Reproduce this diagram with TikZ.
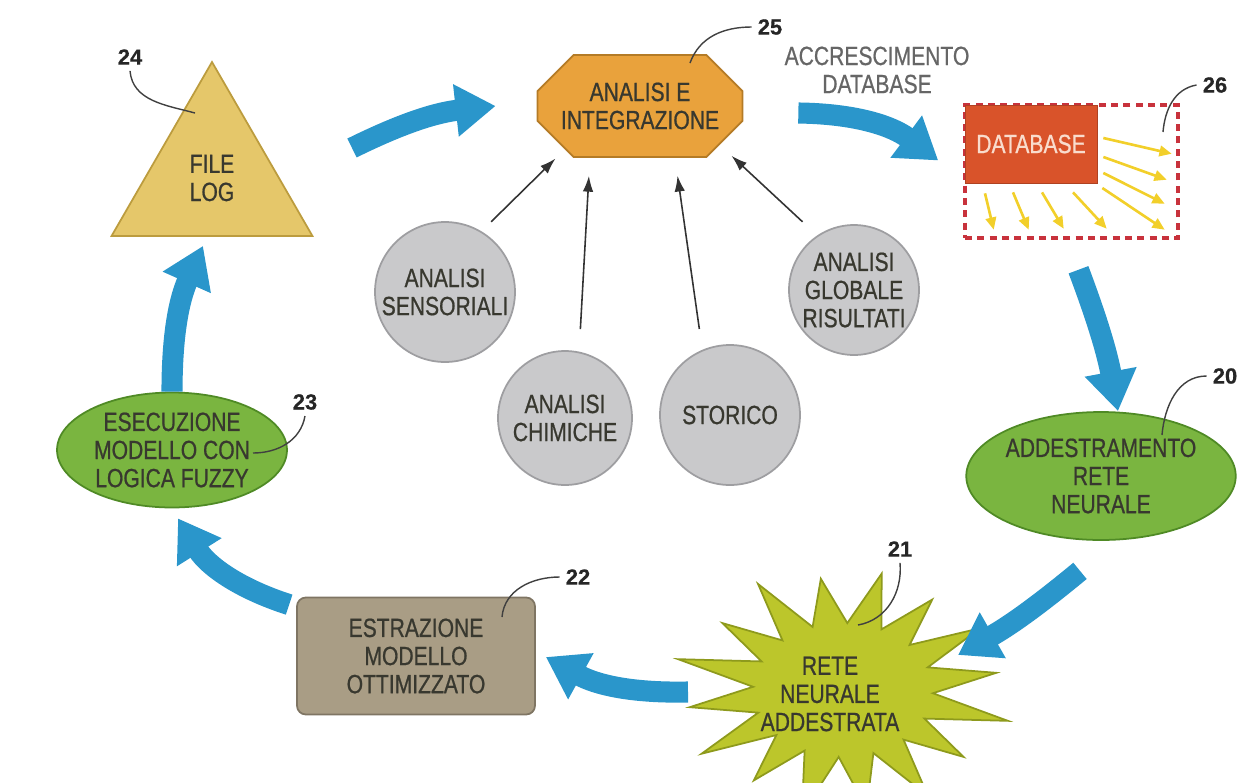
\documentclass[tikz,border=0pt]{standalone}
\usepackage{fontspec}
\setmainfont{Liberation Sans}[FakeStretch=0.8,FakeBold=0.7]
\newfontfamily\numfont{Liberation Sans}[FakeBold=0.5]
\usetikzlibrary{shapes.geometric,shapes.misc,arrows.meta}

\definecolor{flowblue}{HTML}{2A96CB}
\definecolor{textgray}{HTML}{38382F}
\definecolor{logfill}{HTML}{E5C76A}
\definecolor{logline}{HTML}{BC9C3E}
\definecolor{integfill}{HTML}{E9A23C}
\definecolor{integline}{HTML}{B47B26}
\definecolor{dbfill}{HTML}{D9532A}
\definecolor{dbtext}{HTML}{F9DCCD}
\definecolor{dbdash}{HTML}{C8323C}
\definecolor{rayyellow}{HTML}{F2CF2A}
\definecolor{greenfill}{HTML}{7AB540}
\definecolor{greenline}{HTML}{4F8A25}
\definecolor{burstfill}{HTML}{BCC62B}
\definecolor{burstline}{HTML}{8E9A1C}
\definecolor{extractfill}{HTML}{A99D85}
\definecolor{extractline}{HTML}{7F7563}
\definecolor{greyfill}{HTML}{C9C9CB}
\definecolor{greyline}{HTML}{9E9EA1}

\begin{document}
\begin{tikzpicture}[x=0.02cm,y=0.02cm,
    every node/.style={font=\fontsize{15}{16}\selectfont,text=textgray,align=center,inner sep=0pt},
    flow/.style={draw=flowblue,line width=12pt,-{Triangle[length=0.8cm,width=1.0cm]}},
    feed/.style={draw=black!80,line width=0.9pt,-{Latex[length=9pt,width=6pt]}},
    ray/.style={draw=rayyellow,line width=1.5pt,-{Triangle[length=7pt,width=6pt]}},
    leader/.style={draw=black!75,line width=0.8pt},
    num/.style={font=\numfont\fontsize{12.5}{14}\selectfont\bfseries,text=black!85}]
    \useasboundingbox (0,0) rectangle (1255,-782);
    \clip (0,0) rectangle (1255,-782);

    \begin{scope}[shift={(843,-690)}]
        \filldraw[fill=burstfill,draw=burstline,line width=1pt] (76:160 and 120)
            \foreach \i/\r in {0/150,1/165,2/150,3/170,4/155,5/165,6/150,7/170,8/160,9/165,10/150,11/170,12/155,13/160,14/150,15/160}{ -- ({76+\i*22.5+11.25}:90 and 67) -- ({76+(\i+1)*22.5}:\r\space and {\r*0.75})} -- cycle;
    \end{scope}

    \node[regular polygon,regular polygon sides=3,minimum size=4.64cm,fill=logfill,draw=logline,line width=1pt] (log) at (212,-178) {FILE\\LOG};
    \node[chamfered rectangle,chamfered rectangle xsep=0.36cm,chamfered rectangle ysep=0.36cm,minimum width=4.1cm,minimum height=2.04cm,fill=integfill,draw=integline,line width=1pt] (integ) at (640,-106) {ANALISI E\\INTEGRAZIONE};
    \node[text=black!60] (grow) at (877,-70) {ACCRESCIMENTO\\DATABASE};
    \node[draw=dbdash,line width=2pt,dash pattern=on 4pt off 3pt,minimum width=4.26cm,minimum height=2.66cm] (dbzone) at (1071.5,-171.5) {};
    \node[fill=dbfill,draw=dbfill!80!black,minimum width=2.64cm,minimum height=1.56cm,text=dbtext] (db) at (1031,-144) {DATABASE};
    \node[rectangle,rounded corners=5pt,minimum width=4.76cm,minimum height=2.34cm,fill=extractfill,draw=extractline,line width=1pt] (extract) at (416,-656) {ESTRAZIONE\\MODELLO\\OTTIMIZZATO};
    \node (trained) at (830,-694) {RETE\\NEURALE\\ADDESTRATA};

    \begin{scope}[every node/.style={ellipse,fill=greenfill,draw=greenline,line width=1pt,font=\fontsize{15}{16}\selectfont,text=textgray,align=center,inner sep=0pt}]
        \node[minimum width=4.84cm,minimum height=2.56cm] (train) at (1101,-476) {ADDESTRAMENTO\\RETE\\NEURALE};
        \node[minimum width=4.6cm,minimum height=2.3cm] (fuzzy) at (172,-450) {ESECUZIONE\\MODELLO CON\\LOGICA FUZZY};
    \end{scope}

    \begin{scope}[every node/.style={circle,fill=greyfill,draw=greyline,line width=1pt,font=\fontsize{15}{16}\selectfont,text=textgray,align=center,inner sep=0pt}]
        \node[minimum size=2.8cm] (sens) at (445,-292) {ANALISI\\SENSORIALI};
        \node[minimum size=2.68cm] (chim) at (565,-418) {ANALISI\\CHIMICHE};
        \node[minimum size=2.8cm] (stor) at (730,-415) {STORICO};
        \node[minimum size=2.6cm] (glob) at (854,-290) {ANALISI\\GLOBALE\\RISULTATI};
    \end{scope}

    \begin{scope}[every node/.style={num}]
        \node (n24) at (130,-57) {24};
        \node (n25) at (770,-27) {25};
        \node (n26) at (1215,-85) {26};
        \node (n20) at (1225,-376) {20};
        \node (n21) at (900,-549) {21};
        \node (n22) at (578,-577) {22};
        \node (n23) at (305,-402) {23};
    \end{scope}

    \coordinate (p24) at (195,-113);
    \coordinate (p25) at (690,-63);
    \coordinate (p26) at (1163,-132);
    \coordinate (p20) at (1162,-435);
    \coordinate (p21) at (858,-625);
    \coordinate (p22) at (502,-617);
    \coordinate (p23) at (253,-453);

    \begin{scope}
        \draw[leader] (n24.south) to[out=-85,in=165] (p24);
        \draw[leader] (n25.west) to[out=180,in=70] (p25);
        \draw[leader] (n26.west) to[out=190,in=85] (p26);
        \draw[leader] (n20.west) to[out=180,in=85] (p20);
        \draw[leader] (n21.south) to[out=-85,in=10] (p21);
        \draw[leader] (n22.west) to[out=180,in=85] (p22);
        \draw[leader] (n23.south) to[out=-100,in=0] (p23);
    \end{scope}

    \begin{scope}
        \foreach \s/\e in {{6,6}/{-8,86},{6,-13}/{-13,60},{6,-29}/{-15,36},{5,-44}/{-15,10}}
            \draw[ray] ([shift={(\s)}]db.east) -- ([shift={(\e)}]dbzone.south east);
        \foreach \s/\e in {{-46,-10}/{-186,10},{-18,-9}/{-151,10},{11,-9}/{-116,11},{42,-9}/{-73,11}}
            \draw[ray] ([shift={(\s)}]db.south) -- ([shift={(\e)}]dbzone.south east);
    \end{scope}

    \begin{scope}
        \draw[feed,shorten <=0.27cm,shorten >=0.26cm] (sens.59) -- (integ.210);
        \draw[feed,shorten <=0.45cm,shorten >=0.36cm] (chim.78) -- (integ.226);
        \draw[feed,shorten <=0.42cm,shorten >=0.36cm] (stor.113) -- (integ.304);
        \draw[feed,shorten <=0.40cm,shorten >=0.32cm] (glob.124) -- (integ.334);
    \end{scope}

    \begin{scope}
        \draw[flow] ([shift={(140,30)}]log.center) to[bend left=10] ([shift={(-41,0)}]integ.west);
        \draw[flow] ([shift={(55,-7)}]integ.east) to[bend left=18] ([shift={(-25,11)}]dbzone.west);
        \draw[flow] ([shift={(7,-30)}]dbzone.south) to[bend left=5] ([shift={(17,0)}]train.north);
        \draw[flow] ([shift={(-21,-30)}]train.south) to[bend left=5] ([shift={(128,39)}]trained.center);
        \draw[flow] ([shift={(-142,2)}]trained.center) to[bend left=15] ([shift={(10,-1)}]extract.east);
        \draw[flow] ([shift={(-7,-8)}]extract.north west) to[bend left=20] ([shift={(6,-10)}]fuzzy.south);
        \draw[flow] (fuzzy.north) to[bend left=12] ([shift={(-9,-9)}]log.side 2);
    \end{scope}
\end{tikzpicture}
\end{document}
